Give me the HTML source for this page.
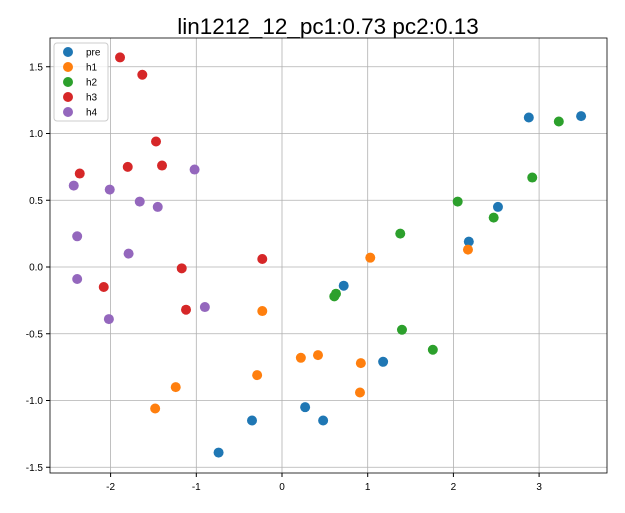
<!DOCTYPE html>
<html><head><meta charset="utf-8"><style>
body{margin:0;background:#fff;}
svg text{font-family:"Liberation Sans","DejaVu Sans",sans-serif;}
</style></head><body>
<svg id="chart" width="625" height="508" xmlns="http://www.w3.org/2000/svg">
<rect width="625" height="508" fill="#fff"/>
<text x="328" y="34" font-size="22.5" text-anchor="middle">lin1212_12_pc1:0.73 pc2:0.13</text>
<g id="grid"></g><g id="pts"></g><g id="axes"></g>
<g id="legend"></g>
</svg>
<script>
const seriesNames=["pre","h1","h2","h3","h4"];
const colors=["#1f77b4","#ff7f0e","#2ca02c","#d62728","#9467bd"];
const preX=[-0.74,-0.35,0.27,0.48,0.72,1.18,2.18,2.52,2.88,3.49];
const preY=[-1.39,-1.15,-1.05,-1.15,-0.14,-0.71,0.19,0.45,1.12,1.13];
const h1X=[-1.48,-1.24,-0.29,-0.23,0.22,0.42,0.92,0.91,1.03,2.17];
const h1Y=[-1.06,-0.90,-0.81,-0.33,-0.68,-0.66,-0.72,-0.94,0.07,0.13];
const h2X=[0.63,0.61,1.38,1.40,1.76,2.05,2.47,2.92,3.23];
const h2Y=[-0.20,-0.22,0.25,-0.47,-0.62,0.49,0.37,0.67,1.09];
const h3X=[-1.89,-1.63,-1.47,-1.80,-1.40,-2.36,-1.17,-1.12,-2.08,-0.23];
const h3Y=[1.57,1.44,0.94,0.75,0.76,0.70,-0.01,-0.32,-0.15,0.06];
const h4X=[-2.43,-2.01,-1.66,-1.45,-1.02,-2.39,-1.79,-2.39,-2.02,-0.90];
const h4Y=[0.61,0.58,0.49,0.45,0.73,0.23,0.10,-0.09,-0.39,-0.30];
const xTicks=[-2,-1,0,1,2,3];
const yTicks=[-1.5,-1.0,-0.5,0.0,0.5,1.0,1.5];
const L=50,R=607,T=38,B=473;
const sx=v=>282+v*85.7, sy=v=>267-v*133.5;
const NS="http://www.w3.org/2000/svg";
function mk(tag,attrs,parent){const e=document.createElementNS(NS,tag);for(const k in attrs)e.setAttribute(k,attrs[k]);document.getElementById(parent).appendChild(e);return e;}
xTicks.forEach(t=>{
 const l=mk("line",{x1:sx(t),x2:sx(t),y1:T,y2:B,stroke:"#b0b0b0","stroke-width":0.8},"grid");
 
 
 mk("line",{x1:sx(t),x2:sx(t),y1:B,y2:B+4,stroke:"#000"},"axes");
 const tx=mk("text",{x:sx(t),y:B+17,"font-size":10,"text-anchor":"middle"},"axes");tx.textContent=t;
 
 
});
yTicks.forEach(t=>{
 const l=mk("line",{x1:L,x2:R,y1:sy(t),y2:sy(t),stroke:"#b0b0b0","stroke-width":0.8},"grid");
 
 
 mk("line",{x1:L-4,x2:L,y1:sy(t),y2:sy(t),stroke:"#000"},"axes");
 const tx=mk("text",{x:L-7,y:sy(t)+3.5,"font-size":10,"text-anchor":"end"},"axes");tx.textContent=t.toFixed(1);
 
 
});
const fr=mk("rect",{x:L,y:T,width:R-L,height:B-T,fill:"none",stroke:"#000","stroke-width":0.8},"axes");


const XS=[preX,h1X,h2X,h3X,h4X],YS=[preY,h1Y,h2Y,h3Y,h4Y];
XS.forEach((xs,s)=>xs.forEach((x,i)=>{
 const c=mk("circle",{cx:sx(x),cy:sy(YS[s][i]),r:5,fill:colors[s]},"pts");
 
 
}));
const lb=mk("rect",{x:54,y:43,width:54,height:78,rx:3,fill:"#fff","fill-opacity":0.8,stroke:"#ccc"},"legend");


seriesNames.forEach((n,i)=>{
 const y=52+i*15;
 const c=mk("circle",{cx:68,cy:y,r:5,fill:colors[i]},"legend");
 
 
 const t=mk("text",{x:86,y:y+3.5,"font-size":10},"legend");t.textContent=n;
 
 
});
</script>
</body></html>
